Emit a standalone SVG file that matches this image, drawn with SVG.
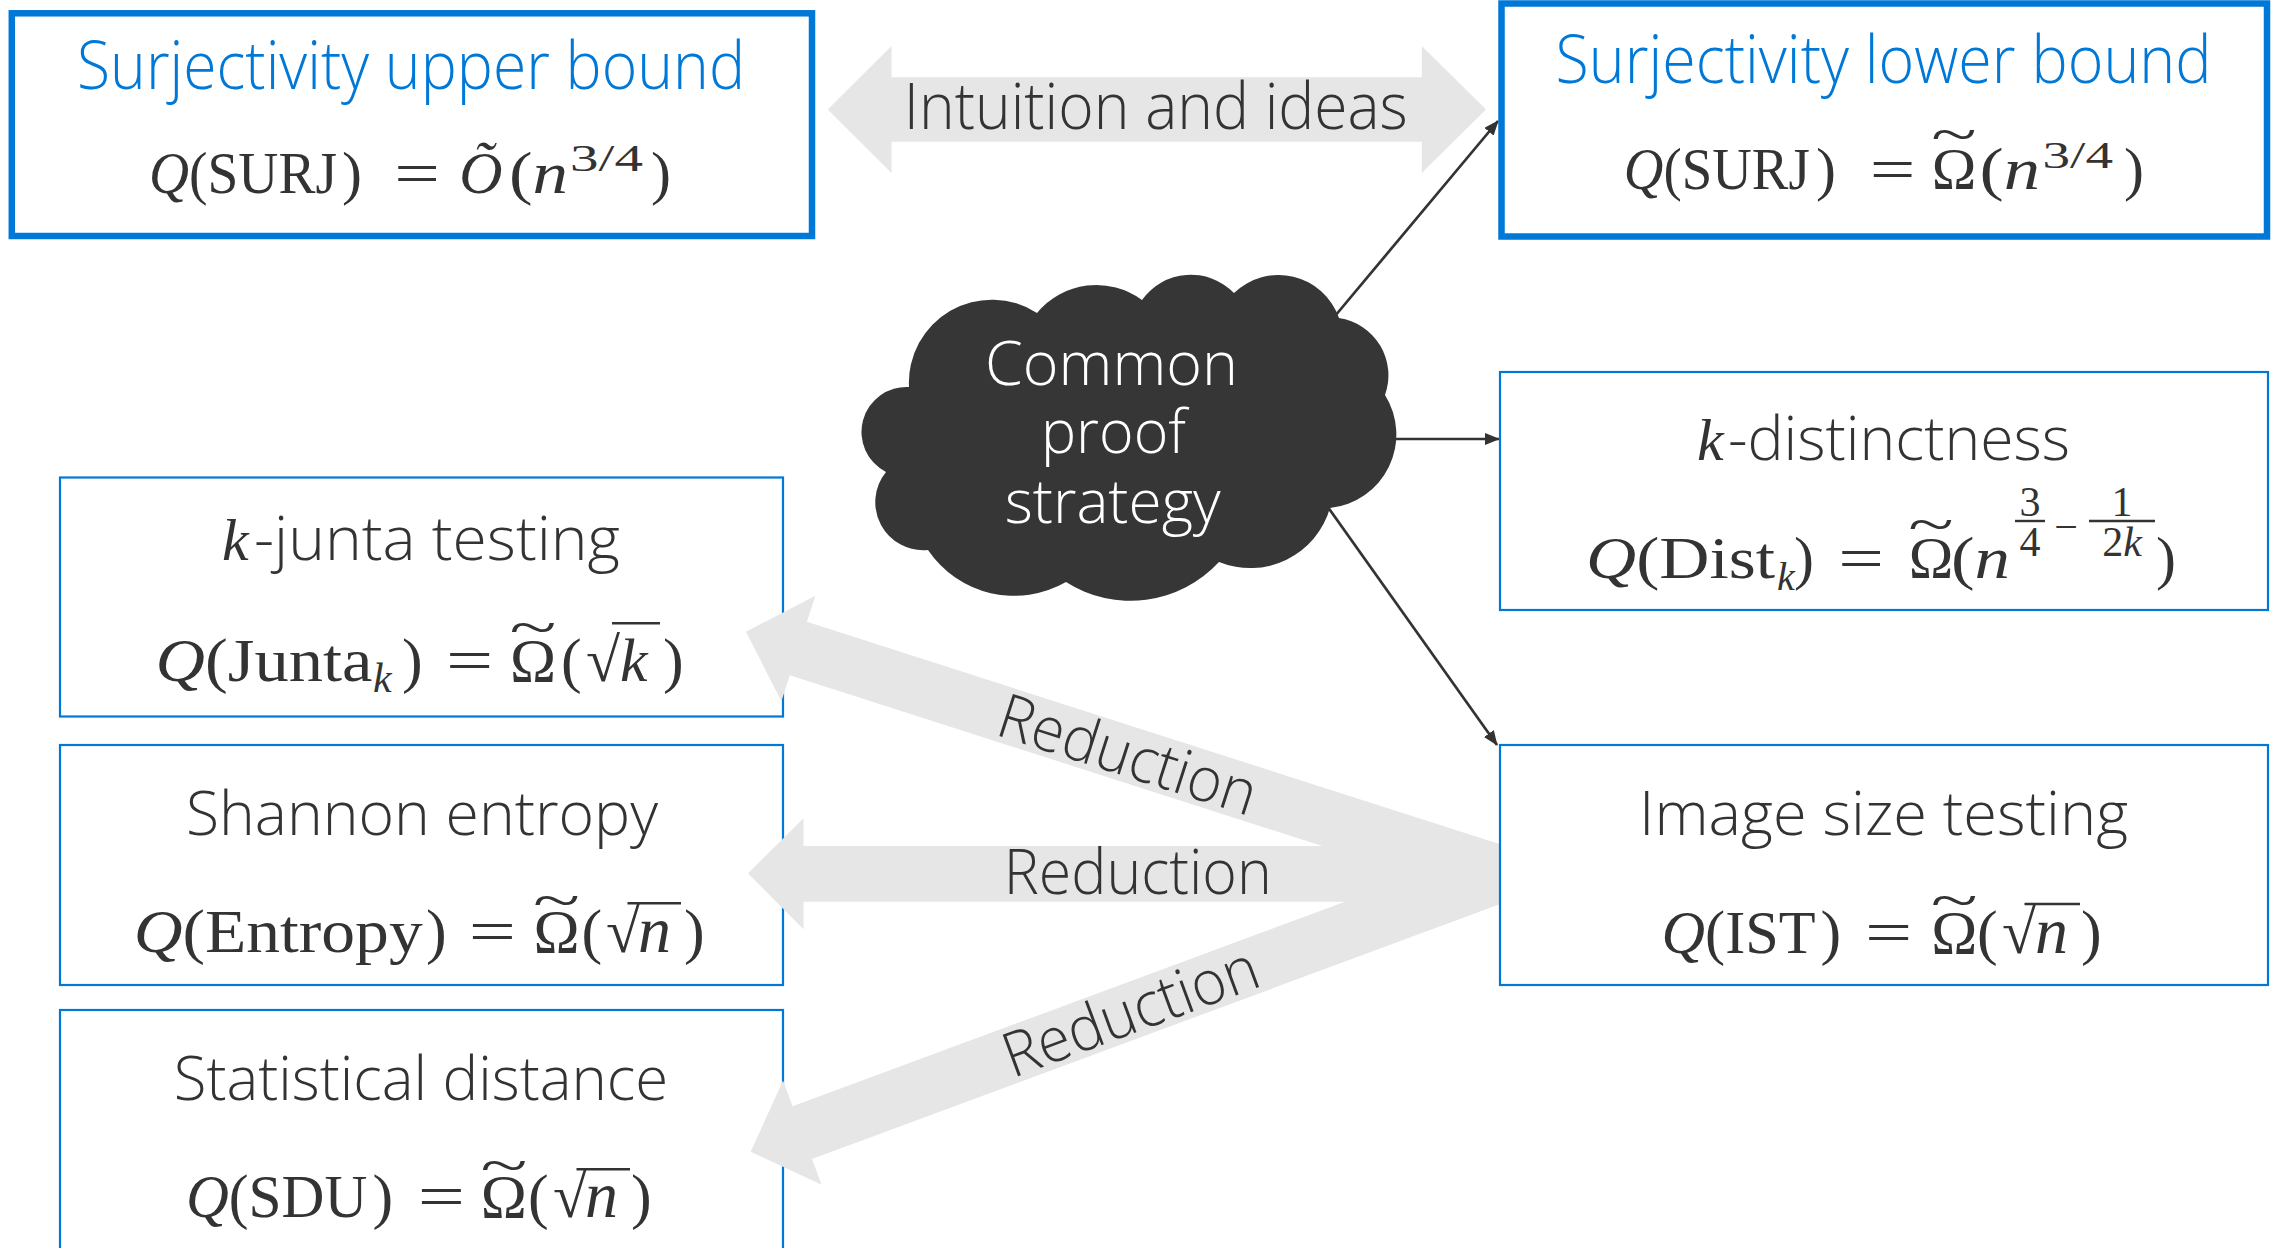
<svg xmlns="http://www.w3.org/2000/svg" width="2271" height="1248" viewBox="0 0 2271 1248">
<defs>
<style>
.t{font-family:"Open Sans","Noto Sans",sans-serif;font-weight:300;fill:#333}
.blue{fill:#0078D7}
.w{fill:#fff}
.m{font-family:"Liberation Serif","Times New Roman",serif;fill:#333}
.i{font-style:italic}
.box{fill:#fff;stroke:#0078D7;stroke-width:2.2}
.thick{stroke-width:6.5}
.ga{fill:#E7E6E6}
.conn{stroke:#333;stroke-width:2.7;fill:none;marker-end:url(#ah)}
.bar{stroke:#333;stroke-width:2.4}
</style>
<marker id="ah" markerUnits="userSpaceOnUse" markerWidth="16" markerHeight="12" refX="14" refY="6" orient="auto">
<path d="M0,0 L15,6 L0,12 z" fill="#333"/>
</marker>
</defs>
<rect width="2271" height="1248" fill="#fff"/>

<g id="junta">
<rect class="box" x="60" y="477.5" width="723" height="239"/>
<text class="m i" x="222" y="560" font-size="60">k</text>
<text class="t" x="254" y="560" font-size="60" textLength="366" lengthAdjust="spacingAndGlyphs">-junta testing</text>
<text class="m" x="155.6" y="681" font-size="62" textLength="216.8" lengthAdjust="spacingAndGlyphs"><tspan class="i">Q</tspan>(Junta</text>
<text class="m i" x="373" y="692" font-size="42">k</text>
<text class="m" x="402" y="681" font-size="62">)</text>
<text class="m" font-size="62" text-anchor="middle" transform="translate(469.5,681) scale(1.35,1)">=</text>
<text class="m" x="533" y="681" font-size="62" text-anchor="middle">Ω</text>
<text class="m" font-size="62" text-anchor="middle" transform="translate(533,646) scale(1.4,0.9)">~</text>
<text class="m" x="561" y="681" font-size="62">(</text>
<text class="m" x="586" y="681" font-size="62">√</text>
<line class="bar" x1="612" y1="623.3" x2="660" y2="623.3"/>
<text class="m i" x="620" y="681" font-size="62">k</text>
<text class="m" x="663" y="681" font-size="62">)</text>
</g>

<g id="entropy">
<rect class="box" x="60" y="745" width="723" height="240"/>
<text class="t" x="422" y="835" font-size="60" text-anchor="middle" textLength="472" lengthAdjust="spacingAndGlyphs">Shannon entropy</text>
<text class="m" x="133.7" y="951.7" font-size="62" textLength="289" lengthAdjust="spacingAndGlyphs"><tspan class="i">Q</tspan>(Entropy</text>
<text class="m" x="426" y="951.7" font-size="62">)</text>
<text class="m" font-size="62" text-anchor="middle" transform="translate(492.4,951.7) scale(1.35,1)">=</text>
<text class="m" x="556.6" y="951.7" font-size="62" text-anchor="middle">Ω</text>
<text class="m" font-size="62" text-anchor="middle" transform="translate(556.6,918.5) scale(1.4,0.9)">~</text>
<text class="m" x="581.6" y="951.7" font-size="62">(</text>
<text class="m" x="606" y="951.7" font-size="62">√</text>
<line class="bar" x1="627.5" y1="903.3" x2="681" y2="903.3"/>
<text class="m i" x="638" y="951.7" font-size="66">n</text>
<text class="m" x="684" y="951.7" font-size="62">)</text>
</g>

<g id="sdu">
<rect class="box" x="60" y="1010" width="723" height="260"/>
<text class="t" x="421" y="1100" font-size="60" text-anchor="middle" textLength="494.5" lengthAdjust="spacingAndGlyphs">Statistical distance</text>
<text class="m" x="186" y="1217.3" font-size="62" textLength="181.3" lengthAdjust="spacingAndGlyphs"><tspan class="i">Q</tspan>(SDU</text>
<text class="m" x="372.4" y="1217.3" font-size="62">)</text>
<text class="m" font-size="62" text-anchor="middle" transform="translate(441.4,1217.3) scale(1.35,1)">=</text>
<text class="m" x="503.9" y="1217.3" font-size="62" text-anchor="middle">Ω</text>
<text class="m" font-size="62" text-anchor="middle" transform="translate(503.9,1184) scale(1.4,0.9)">~</text>
<text class="m" x="528" y="1217.3" font-size="62">(</text>
<text class="m" x="553" y="1217.3" font-size="62">√</text>
<line class="bar" x1="576.5" y1="1169.3" x2="630" y2="1169.3"/>
<text class="m i" x="585" y="1217.3" font-size="66">n</text>
<text class="m" x="631" y="1217.3" font-size="62">)</text>
</g>

<g id="upper">
<rect class="box thick" x="11.8" y="13.3" width="800.2" height="222.7"/>
<text class="t blue" x="411" y="89.3" font-size="66" text-anchor="middle" textLength="668" lengthAdjust="spacingAndGlyphs">Surjectivity upper bound</text>
<text class="m" x="149" y="193.3" font-size="60" textLength="188" lengthAdjust="spacingAndGlyphs"><tspan class="i">Q</tspan>(SURJ</text>
<text class="m" x="342" y="193.3" font-size="60">)</text>
<text class="m" font-size="60" text-anchor="middle" transform="translate(417,193.3) scale(1.35,1)">=</text>
<text class="m i" x="481" y="193.3" font-size="60" text-anchor="middle">Õ</text>
<text class="m" x="509" y="193.3" font-size="60" textLength="59" lengthAdjust="spacingAndGlyphs">(<tspan class="i">n</tspan></text>
<text class="m" x="570" y="171" font-size="38" textLength="73" lengthAdjust="spacingAndGlyphs">3/4</text>
<text class="m" x="651" y="193.3" font-size="60">)</text>
</g>

<g id="connectors">
<polygon class="ga" points="827.7,109.5 891.5,46 891.5,77.3 1421.8,77.3 1421.8,46 1486,109.5 1421.8,173 1421.8,141.7 891.5,141.7 891.5,173"/>
<text class="t" x="1155.8" y="129.3" font-size="64" text-anchor="middle" textLength="504" lengthAdjust="spacingAndGlyphs">Intuition and ideas</text>
<polygon class="ga" points="746,631.7 815.4,595.7 806.9,621.8 1547.7,859.5 1530.5,912.9 789.8,675.2 781.4,701.3"/>
<polygon class="ga" points="748,873.5 803.5,818.3 803.5,846 1540,846 1540,901.7 803.5,901.7 803.5,929.3"/>
<polygon class="ga" points="750.7,1151.7 783,1080.5 792.6,1106.3 1528.8,833.8 1548.2,886.4 812,1158.9 821.6,1184.7"/>
<text class="t" x="1121.3" y="775.2" font-size="62" text-anchor="middle" textLength="268" lengthAdjust="spacingAndGlyphs" transform="rotate(17.8 1121.3 775.2)">Reduction</text>
<text class="t" x="1137.8" y="894" font-size="62" text-anchor="middle" textLength="268" lengthAdjust="spacingAndGlyphs">Reduction</text>
<text class="t" x="1138.1" y="1031.7" font-size="62" text-anchor="middle" textLength="268" lengthAdjust="spacingAndGlyphs" transform="rotate(-20.3 1138.1 1031.7)">Reduction</text>
<line class="conn" x1="1330" y1="322" x2="1498" y2="121"/>
<line class="conn" x1="1395" y1="439" x2="1499" y2="439"/>
<line class="conn" x1="1325" y1="503" x2="1497" y2="745"/>
</g>

<g id="cloud">
<path fill="#363636" d="M909,387 A83,83 0 0 1 1037,313 A77,77 0 0 1 1142,300 A60,60 0 0 1 1234,293 A64,64 0 0 1 1339,318 A58,58 0 0 1 1385,395 A74,74 0 0 1 1330,508 A83,83 0 0 1 1219,562 A120,120 0 0 1 1066,582 A104,104 0 0 1 928,550 A48,48 0 0 1 886,472 A45,45 0 0 1 909,387 Z"/>
<text class="t w" x="1111.5" y="385" font-size="60" text-anchor="middle" textLength="253" lengthAdjust="spacingAndGlyphs">Common</text>
<text class="t w" x="1113.5" y="453.3" font-size="60" text-anchor="middle" textLength="145" lengthAdjust="spacingAndGlyphs">proof</text>
<text class="t w" x="1112.7" y="523.3" font-size="60" text-anchor="middle" textLength="216" lengthAdjust="spacingAndGlyphs">strategy</text>
</g>

<g id="lower">
<rect class="box thick" x="1501.5" y="3.5" width="765.5" height="233"/>
<text class="t blue" x="1883.6" y="82.7" font-size="66" text-anchor="middle" textLength="656" lengthAdjust="spacingAndGlyphs">Surjectivity lower bound</text>
<text class="m" x="1623.8" y="189.3" font-size="60" textLength="186" lengthAdjust="spacingAndGlyphs"><tspan class="i">Q</tspan>(SURJ</text>
<text class="m" x="1816" y="189.3" font-size="60">)</text>
<text class="m" font-size="60" text-anchor="middle" transform="translate(1892.5,189.3) scale(1.35,1)">=</text>
<text class="m" x="1954" y="189.3" font-size="60" text-anchor="middle">Ω</text>
<text class="m" font-size="60" text-anchor="middle" transform="translate(1954,153) scale(1.4,0.9)">~</text>
<text class="m" x="1979.5" y="189.3" font-size="60" textLength="60.5" lengthAdjust="spacingAndGlyphs">(<tspan class="i">n</tspan></text>
<text class="m" x="2042.5" y="168" font-size="38" textLength="70.5" lengthAdjust="spacingAndGlyphs">3/4</text>
<text class="m" x="2124" y="189.3" font-size="60">)</text>
</g>

<g id="distinctness">
<rect class="box" x="1500" y="372" width="768" height="238"/>
<text class="m i" x="1697" y="460" font-size="60">k</text>
<text class="t" x="1728" y="460" font-size="60" textLength="342" lengthAdjust="spacingAndGlyphs">-distinctness</text>
<text class="m" x="1586" y="578" font-size="60" textLength="189" lengthAdjust="spacingAndGlyphs"><tspan class="i">Q</tspan>(Dist</text>
<text class="m i" x="1777" y="590" font-size="40">k</text>
<text class="m" x="1794" y="578" font-size="60">)</text>
<text class="m" font-size="60" text-anchor="middle" transform="translate(1861,578) scale(1.35,1)">=</text>
<text class="m" x="1931" y="578" font-size="60" text-anchor="middle">Ω</text>
<text class="m" font-size="60" text-anchor="middle" transform="translate(1931,543) scale(1.4,0.9)">~</text>
<text class="m" x="1951" y="578" font-size="60" textLength="59" lengthAdjust="spacingAndGlyphs">(<tspan class="i">n</tspan></text>
<text class="m" x="2030" y="516" font-size="42" text-anchor="middle">3</text>
<line class="bar" x1="2015" y1="521" x2="2045" y2="521"/>
<text class="m" x="2030" y="556" font-size="42" text-anchor="middle">4</text>
<text class="m" x="2066" y="541" font-size="42" text-anchor="middle">−</text>
<text class="m" x="2122" y="516" font-size="42" text-anchor="middle">1</text>
<line class="bar" x1="2089" y1="521" x2="2155" y2="521"/>
<text class="m" x="2122" y="556" font-size="42" text-anchor="middle">2<tspan class="i">k</tspan></text>
<text class="m" x="2156" y="578" font-size="60">)</text>
</g>

<g id="imagesize">
<rect class="box" x="1500" y="745" width="768" height="240"/>
<text class="t" x="1883.5" y="835" font-size="60" text-anchor="middle" textLength="489" lengthAdjust="spacingAndGlyphs">Image size testing</text>
<text class="m" x="1661.6" y="952.7" font-size="62" textLength="153.9" lengthAdjust="spacingAndGlyphs"><tspan class="i">Q</tspan>(IST</text>
<text class="m" x="1820.5" y="952.7" font-size="62">)</text>
<text class="m" font-size="62" text-anchor="middle" transform="translate(1888.7,952.7) scale(1.35,1)">=</text>
<text class="m" x="1954.2" y="952.7" font-size="62" text-anchor="middle">Ω</text>
<text class="m" font-size="62" text-anchor="middle" transform="translate(1954.2,918.5) scale(1.4,0.9)">~</text>
<text class="m" x="1977" y="952.7" font-size="62">(</text>
<text class="m" x="2002" y="952.7" font-size="62">√</text>
<line class="bar" x1="2024.5" y1="904" x2="2080" y2="904"/>
<text class="m i" x="2035" y="952.7" font-size="66">n</text>
<text class="m" x="2081" y="952.7" font-size="62">)</text>
</g>
</svg>
